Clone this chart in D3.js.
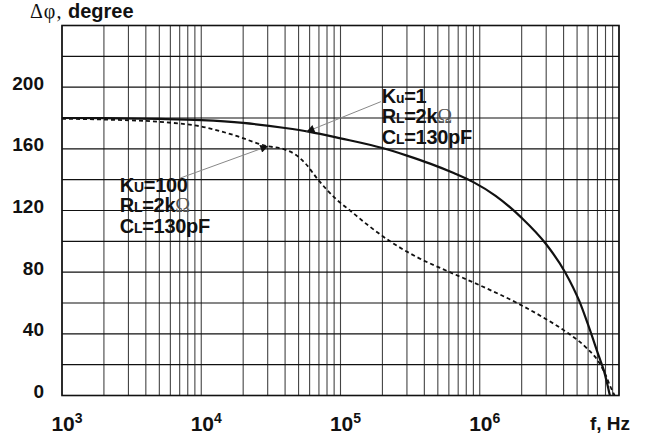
<!DOCTYPE html>
<html><head><meta charset="utf-8">
<script src="https://cdn.jsdelivr.net/npm/d3@7"></script>
<style>body{margin:0;background:#fff;overflow:hidden}</style>
</head><body>
<svg id="c" width="647" height="439"></svg>
<script>
// ---- data ----
const freqKu1 = [1e3, 2e3, 5e3, 1e4, 2e4, 4e4, 6e4, 1e5, 2e5, 3e5, 4.4e5, 6.5e5, 9e5, 1.3e6, 2e6, 3e6, 4.1e6, 5.2e6, 6.1e6, 7.2e6, 7.8e6, 8.6e6];
const phaseKu1 = [180, 179.9, 179.4, 178.6, 176.8, 173.5, 171, 166.8, 160.5, 155.6, 150.4, 144.3, 138.4, 129.5, 115.2, 98.1, 80, 61, 44, 25, 16, 0];
const freqKu100 = [1e3, 2e3, 5e3, 1e4, 1.7e4, 2.9e4, 4e4, 4.8e4, 5.6e4, 6.9e4, 9.4e4, 1.17e5, 1.6e5, 2.27e5, 3.5e5, 6.1e5, 1e6, 1.9e6, 3e6, 4.3e6, 5.9e6, 7.3e6, 8e6, 8.6e6, 9.3e6];
const phaseKu100 = [179.5, 179, 177.5, 174.5, 169, 162, 159.5, 156, 150.5, 140, 127, 120, 110, 100, 90, 80, 71.5, 59.5, 49.5, 40.5, 30.5, 20.5, 13.5, 6.5, 0];
const yTickValues = [0, 40, 80, 120, 160, 200];
const yGridValues = d3.range(0, 241, 20);
const xDecadeExponents = [3, 4, 5, 6];
const xAxisTitle = "f, Hz";
const yAxisTitleSymbol = "Δφ,";
const yAxisTitleWord = " degree";
// annotation labels: [main letter, subscript, rest, symbol]
const labelKu1 = [["K", "u", "=1"], ["R", "L", "=2k", "Ω"], ["C", "L", "=130pF"]];
const labelKu100 = [["K", "U", "=100"], ["R", "L", "=2k", "Ω"], ["C", "L", "=130pF"]];
// annotation arrows: [from f, from phase] -> [to f, to phase]
const arrowKu1 = [[1.95e5, 190.6], [5.7e4, 171.1]];
const arrowKu100 = [[7.0e3, 140.9], [3.03e4, 161.8]];
const textKu1At = [1.98e5, 189.9];
const textKu100At = [2.6e3, 132.2];

// ---- chart ----
const svg = d3.select("#c");
const x = d3.scaleLog().domain([1e3, 1e7]).range([62, 619]);
const y = d3.scaleLinear().domain([0, 240]).range([395.5, 25.5]);
const sans = "'Liberation Sans', Arial, Helvetica, sans-serif";
const serif = "'Liberation Serif', 'Times New Roman', serif";

// vertical grid
const vGrid = [];
xDecadeExponents.forEach(e => { for (let k = 1; k <= 9; k++) vGrid.push(k * Math.pow(10, e)); });
vGrid.push(1e7);
svg.append("g").selectAll("line").data(vGrid).join("line")
  .attr("x1", d => x(d)).attr("x2", d => x(d))
  .attr("y1", y(240)).attr("y2", y(0))
  .attr("stroke", "#444").attr("stroke-width", 1.1);
// horizontal grid
svg.append("g").selectAll("line").data(yGridValues).join("line")
  .attr("x1", x(1e3)).attr("x2", x(1e7))
  .attr("y1", d => y(d)).attr("y2", d => y(d))
  .attr("stroke", "#111").attr("stroke-width", 1.1);
// frame
svg.append("rect").attr("x", x(1e3)).attr("y", y(240))
  .attr("width", x(1e7) - x(1e3)).attr("height", y(0) - y(240))
  .attr("fill", "none").attr("stroke", "#111").attr("stroke-width", 1.6);

// y tick labels
svg.append("g").selectAll("text").data(yTickValues).join("text")
  .attr("x", 44).attr("y", d => y(d) - 4)
  .attr("text-anchor", "end").attr("dominant-baseline", "central")
  .attr("font-family", sans).attr("font-weight", "bold").attr("font-size", 19)
  .attr("fill", "#111").text(d => d);

// x tick labels 10^n
const xt = svg.append("g").selectAll("text").data(xDecadeExponents).join("text")
  .attr("x", d => x(Math.pow(10, d)) + 5).attr("y", 431)
  .attr("text-anchor", "middle")
  .attr("font-family", sans).attr("font-weight", "bold").attr("font-size", 21)
  .attr("fill", "#111");
xt.append("tspan").text("10");
xt.append("tspan").attr("font-size", 14).attr("dy", -8).text(d => d);

// x axis title
svg.append("text").attr("x", 630).attr("y", 430).attr("text-anchor", "end")
  .attr("font-family", sans).attr("font-weight", "bold").attr("font-size", 19)
  .attr("fill", "#111").text(xAxisTitle);

// y axis title
const yt = svg.append("text").attr("x", 30).attr("y", 18).attr("fill", "#111");
yt.append("tspan").attr("font-family", serif).attr("font-size", 20).attr("letter-spacing", 1).text(yAxisTitleSymbol);
yt.append("tspan").attr("font-family", sans).attr("font-weight", "bold").attr("font-size", 20).text(yAxisTitleWord);

// curves
const line = d3.line().x(d => x(d[0])).y(d => y(d[1])).curve(d3.curveMonotoneX);
svg.append("path").datum(d3.zip(freqKu1, phaseKu1)).attr("d", line)
  .attr("fill", "none").attr("stroke", "#111").attr("stroke-width", 2.2);
svg.append("path").datum(d3.zip(freqKu100, phaseKu100)).attr("d", line)
  .attr("fill", "none").attr("stroke", "#111").attr("stroke-width", 1.8)
  .attr("stroke-dasharray", "4,3");

// arrows
svg.append("defs").append("marker").attr("id", "ah")
  .attr("viewBox", "0 0 10 10").attr("refX", 10).attr("refY", 5)
  .attr("markerWidth", 11).attr("markerHeight", 8).attr("markerUnits", "userSpaceOnUse")
  .attr("orient", "auto")
  .append("path").attr("d", "M0,0 L10,5 L0,10 Z").attr("fill", "#111");
[arrowKu1, arrowKu100].forEach(a => {
  svg.append("line")
    .attr("x1", x(a[0][0])).attr("y1", y(a[0][1]))
    .attr("x2", x(a[1][0])).attr("y2", y(a[1][1]))
    .attr("stroke", "#888").attr("stroke-width", 1)
    .attr("marker-end", "url(#ah)");
});

// annotation texts
function label(lines, at) {
  const g = svg.append("g");
  lines.forEach((ln, i) => {
    const t = g.append("text").attr("x", x(at[0])).attr("y", y(at[1]) + i * 20.5)
      .attr("font-family", sans).attr("font-weight", "bold").attr("font-size", 20)
      .attr("letter-spacing", -0.3).attr("fill", "#111");
    t.append("tspan").text(ln[0]);
    t.append("tspan").attr("font-size", 14).text(ln[1]);
    t.append("tspan").text(ln[2]);
    if (ln[3]) t.append("tspan").attr("font-family", serif).attr("font-weight", "normal")
      .attr("font-size", 20).attr("fill", "#555").text(ln[3]);
  });
}
label(labelKu1, textKu1At);
label(labelKu100, textKu100At);
</script>
</body></html>
